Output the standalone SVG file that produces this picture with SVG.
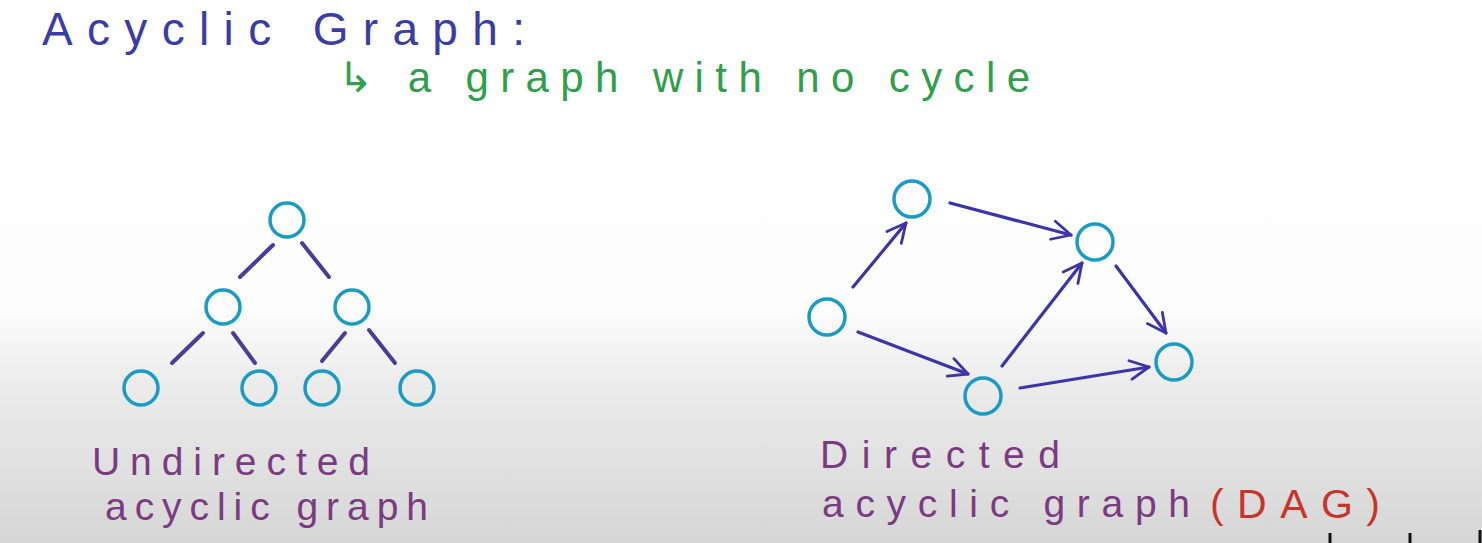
<svg xmlns="http://www.w3.org/2000/svg" width="1482" height="543" viewBox="0 0 1482 543">
<defs>
<linearGradient id="bg" x1="0" y1="0" x2="0" y2="1">
<stop offset="0" stop-color="#ffffff"/>
<stop offset="0.57" stop-color="#fdfdfd"/>
<stop offset="0.70" stop-color="#ececec"/>
<stop offset="1" stop-color="#d6d6d6"/>
</linearGradient>
<marker id="chev" viewBox="0 0 12 12" refX="11" refY="6" markerWidth="7" markerHeight="7" orient="auto" markerUnits="strokeWidth">
<path d="M1,1 L11,6 L1,11" fill="none" stroke="#3c34a8" stroke-width="1.5" stroke-linecap="round" stroke-linejoin="round"/>
</marker>
<style>
.node{fill:none;stroke:#1b9bc4;stroke-width:3.5}
.edge{stroke:#4b3c9c;stroke-width:4;stroke-linecap:round;fill:none}
.arr{stroke:#3c34a8;stroke-width:3.2;stroke-linecap:round;fill:none;marker-end:url(#chev)}
.t{font-family:"Liberation Sans","DejaVu Sans",sans-serif}
.title{fill:#3b3ca6;font-size:46px}
.green{fill:#2f9f4c;font-size:42px}
.lab{fill:#7b3b82;font-size:39px}
.red{fill:#c7352a;font-size:41px}
</style>
</defs>
<rect width="1482" height="543" fill="url(#bg)"/>

<g id="texts">
<text class="t title" x="42" y="45" textLength="483" lengthAdjust="spacing">Acyclic  Graph:</text>
<text class="t green" x="338" y="92" textLength="692" lengthAdjust="spacing">↳ a graph with no cycle</text>
<text class="t lab" x="92" y="475" textLength="278" lengthAdjust="spacing">Undirected</text>
<text class="t lab" x="105" y="520" textLength="323" lengthAdjust="spacing">acyclic graph</text>
<text class="t lab" x="820" y="468" textLength="240" lengthAdjust="spacing">Directed</text>
<text class="t lab" x="822" y="517" textLength="368" lengthAdjust="spacing">acyclic graph</text>
<text class="t red" x="1210" y="518" textLength="170" lengthAdjust="spacing">(DAG)</text>
</g>

<g id="connectors">
<line class="edge" x1="273" y1="245" x2="240" y2="277"/>
<line class="edge" x1="302" y1="243" x2="329" y2="277"/>
<line class="edge" x1="203" y1="333" x2="172" y2="363"/>
<line class="edge" x1="233" y1="333" x2="255" y2="363"/>
<line class="edge" x1="345" y1="333" x2="322" y2="361"/>
<line class="edge" x1="369" y1="330" x2="395" y2="363"/>

<line class="arr" x1="853" y1="287" x2="906" y2="223"/>
<line class="arr" x1="950" y1="203" x2="1071" y2="235"/>
<line class="arr" x1="858" y1="332" x2="968" y2="374"/>
<line class="arr" x1="1002" y1="366" x2="1082" y2="263"/>
<line class="arr" x1="1116" y1="266" x2="1166" y2="333"/>
<line class="arr" x1="1020" y1="388" x2="1149" y2="367"/>
</g>

<g id="tree-root"><circle class="node" cx="287" cy="220" r="17"/></g>
<g id="tree-l"><circle class="node" cx="223" cy="307" r="17"/></g>
<g id="tree-r"><circle class="node" cx="352" cy="307" r="17"/></g>
<g id="tree-ll"><circle class="node" cx="141" cy="388" r="17"/></g>
<g id="tree-lr"><circle class="node" cx="259" cy="388" r="17"/></g>
<g id="tree-rl"><circle class="node" cx="322" cy="388" r="17"/></g>
<g id="tree-rr"><circle class="node" cx="417" cy="388" r="17"/></g>

<g id="dag-a"><circle class="node" cx="827" cy="317" r="18"/></g>
<g id="dag-b"><circle class="node" cx="912" cy="199" r="18"/></g>
<g id="dag-c"><circle class="node" cx="1095" cy="242" r="18"/></g>
<g id="dag-d"><circle class="node" cx="983" cy="396" r="18"/></g>
<g id="dag-e"><circle class="node" cx="1174" cy="362" r="18"/></g>

<g id="marks" stroke="#111" stroke-width="3">
<line x1="1330" y1="533" x2="1330" y2="543"/>
<line x1="1410" y1="533" x2="1410" y2="543"/>
<line x1="1480" y1="530" x2="1480" y2="543"/>
</g>
</svg>
